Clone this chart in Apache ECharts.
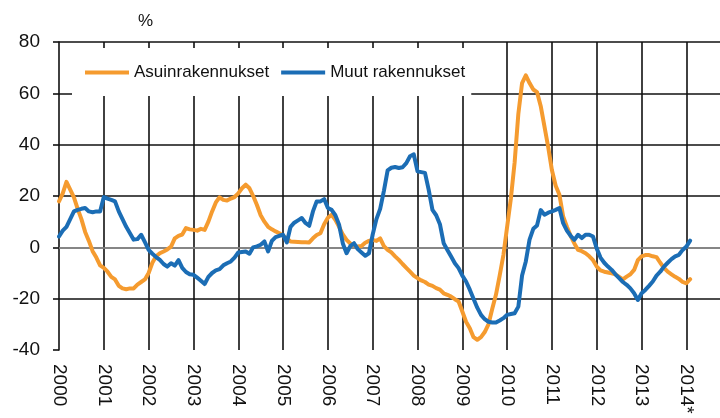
<!DOCTYPE html>
<html>
<head>
<meta charset="utf-8">
<script src="https://cdn.jsdelivr.net/npm/echarts@6/dist/echarts.min.js"></script>
<style>
  html, body { margin: 0; padding: 0; background: #fff; }
  #chart { width: 720px; height: 418px; }
</style>
</head>
<body>
<div id="chart"></div>
<script>
// year labels on the x axis (one per January)
var yearLabels = ['2000', '2001', '2002', '2003', '2004', '2005', '2006', '2007',
  '2008', '2009', '2010', '2011', '2012', '2013', '2014*'];
var monthsShown = 178; // axis runs from 2000-01 to 2014-10

// monthly change, %, 2000-01 .. 2014-02
var asuin = [
  17.9, 21, 25.5, 22.5, 19.5, 15, 11, 6, 2.5, -1.5, -4, -7,
  -8, -9.5, -11.5, -12.5, -15, -16, -16.3, -16, -16, -14.5, -13.5, -12.5,
  -10, -6, -3.5, -2.3, -1.6, -0.8, 0.3, 3.5, 4.5, 5, 7.5, 7,
  6.8, 6.5, 7.2, 6.8, 10, 14, 17.5, 19.5, 18.5, 18.2, 19, 19.6,
  21, 23, 24.4, 23, 20, 16.5, 12.5, 10, 8, 7, 6.2, 5.5,
  4.5, 3.5, 2.3, 2.2, 2.1, 2, 2, 1.9, 3.5, 4.8, 5.5, 9,
  11.5, 12.7, 10.7, 8, 5, 2.9, 1.5, 0.8, 0.3, 0.5, 1.8, 2.5,
  2.9, 2.5, 3.5, 0.5, -1, -2, -3.5, -4.9, -6.5, -8, -9.5, -11,
  -12, -12.9, -13.5, -14.5, -15, -15.9, -16.5, -17.9, -18.5, -19.2, -20.2, -21.1,
  -25, -29, -31.5, -35, -36, -35, -33, -30, -24, -18.5, -11, -3,
  8, 19, 33, 52, 64, 67, 64, 61.5, 60.5, 55, 47, 39,
  30, 24, 20.5, 12, 8, 4.5, 1.5, -1, -1.5, -2.3, -3.5, -5,
  -7.5, -9, -9.5, -9.8, -10.1, -10.5, -11.5, -12.5, -11.4, -10.5, -8.8, -5,
  -3.5, -3, -3, -3.5, -3.8, -6, -8, -9.5, -10.5, -11.5, -12.3, -13.5,
  -14, -12.4
];
var muut = [
  4.2, 6.5, 8, 11, 14, 14.6, 15, 15.3, 14, 13.7, 14, 14,
  19.6, 19, 18.5, 17.9, 14, 11, 8, 5.5, 3, 3.2, 4.9, 2,
  -1, -2.5, -3.8, -4.9, -6.5, -7.5, -6.2, -7.1, -5, -8, -9.6, -10.5,
  -10.7, -11.8, -13, -14.3, -11.5, -10, -9, -8.5, -7, -6.2, -5.5, -4,
  -2, -1.8, -1.6, -2.5, 0, 0.4, 1, 2.3, -1.6, 2.5, 4, 4.5,
  4.9, 1.9, 8, 9.6, 10.5, 11.4, 9.5, 8.4, 14, 17.9, 17.9, 18.8,
  15.3, 14.6, 12.5, 8.8, 1.5, -2.3, 0.5, 1.6, -0.7, -2, -3.3, -2.3,
  5, 11, 15, 22, 30, 31, 31.3, 30.9, 31.2, 32.8, 35.5, 36.2,
  29.6, 29.3, 29, 22.4, 14.6, 12.5, 9, 1.6, -1, -3.6, -6.2, -8.1,
  -11, -13.3, -16.5, -20, -23.5, -26.3, -28, -29, -29.3, -29.3, -28.5, -27.6,
  -26.3, -26, -25.7, -23.1, -11, -5.5, 3, 7.2, 8.5, 14.5, 12.7, 13.5,
  14, 14.6, 15.3, 9.4, 6.5, 4.5, 2.9, 4.9, 3.6, 4.9, 4.9, 4.2,
  -0.5, -4, -6, -7.5, -8.8, -10.5, -12, -13.5, -14.6, -16, -17.9, -20.5,
  -17.9, -16.6, -15, -13.3, -11, -9.5, -7.5, -6, -4.6, -3.5, -2.9, -1,
  0.3, 2.6
];

var months = [];
for (var y = 0; y < yearLabels.length; y++) {
  for (var mo = 0; mo < 12; mo++) {
    if (months.length < monthsShown) months.push(y + '-' + mo);
  }
}

var fontFam = 'Liberation Sans, Arial, sans-serif';
var gridColor = '#111';
var chart = echarts.init(document.getElementById('chart'));
var option = {
  animation: false,
  title: {
    text: '%',
    left: 133,
    top: 8,
    textStyle: { fontSize: 17, fontWeight: 'normal', color: '#111', fontFamily: fontFam }
  },
  legend: {
    data: ['Asuinrakennukset', 'Muut rakennukset'],
    left: 72,
    top: 48,
    padding: [16, 6, 15, 13],
    backgroundColor: '#fff',
    itemWidth: 44,
    itemHeight: 4,
    itemGap: 12,
    icon: 'rect',
    textStyle: { fontSize: 17, color: '#111', fontFamily: fontFam }
  },
  grid: { left: 59, right: 0, top: 42, bottom: 68 },
  xAxis: {
    type: 'category',
    data: months,
    boundaryGap: false,
    axisLine: { lineStyle: { color: '#999', width: 1.5 } },
    axisTick: { show: false },
    axisLabel: {
      interval: function (i) { return i % 12 === 0; },
      rotate: -90,
      margin: 14,
      fontSize: 19,
      color: '#111',
      fontFamily: fontFam,
      formatter: function (v, i) { return yearLabels[Math.floor(i / 12)]; }
    },
    splitLine: {
      show: true,
      interval: function (i) { return i % 12 === 0 && i > 0; },
      lineStyle: { color: gridColor, width: 1.6 }
    }
  },
  yAxis: {
    type: 'value',
    min: -40,
    max: 80,
    interval: 20,
    axisLine: { show: true, lineStyle: { color: gridColor, width: 1.6 } },
    axisTick: { show: true, length: 6, lineStyle: { color: gridColor, width: 1.6 } },
    axisLabel: { margin: 19, fontSize: 19, color: '#111', fontFamily: fontFam },
    splitLine: { show: true, showMinLine: false, lineStyle: { color: gridColor, width: 1.6 } }
  },
  series: [
    {
      name: 'Asuinrakennukset',
      type: 'line',
      data: asuin,
      showSymbol: false,
      color: '#F59B2F',
      lineStyle: { width: 4, cap: 'round', join: 'round' }
    },
    {
      name: 'Muut rakennukset',
      type: 'line',
      data: muut,
      showSymbol: false,
      color: '#1B6DB5',
      lineStyle: { width: 4, cap: 'round', join: 'round' }
    }
  ]
};
chart.setOption(option);
</script>
</body>
</html>
